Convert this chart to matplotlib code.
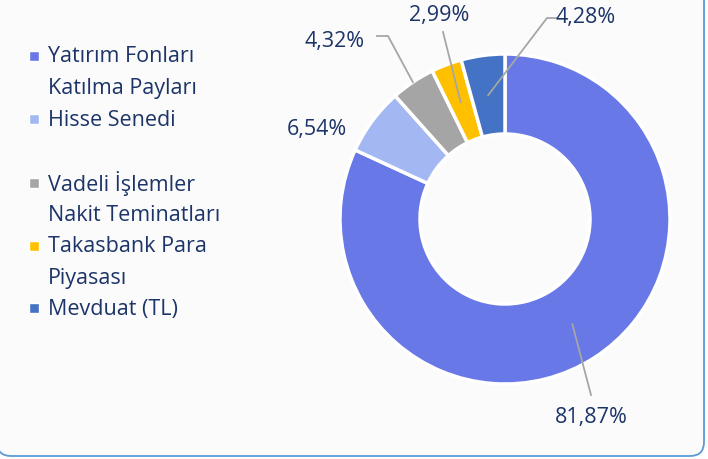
import matplotlib.pyplot as plt
import numpy as np
from matplotlib.patches import FancyBboxPatch, Rectangle

# data
labels = ["Yatırım Fonları\nKatılma Payları", "Hisse Senedi", "Vadeli İşlemler\nNakit Teminatları",
          "Takasbank Para\nPiyasası", "Mevduat (TL)"]
values = [81.87, 6.54, 4.32, 2.99, 4.28]
pct_text = ["81,87%", "6,54%", "4,32%", "2,99%", "4,28%"]
colors = ["#6878E6", "#A3B8F2", "#A5A5A5", "#FFC000", "#4472C4"]

W, H = 708, 460
txt_col = "#1C3468"
fs = 15.5
plt.rcParams['font.family'] = ['Open Sans', 'DejaVu Sans']

fig = plt.figure(figsize=(W / 100, H / 100), dpi=100)
ax = fig.add_axes([0, 0, 1, 1])

# box background
box = FancyBboxPatch((-3, 3), 707, 520, boxstyle="round,pad=0,rounding_size=14",
                     facecolor="#fbfbfb", edgecolor="#5B9BD5", linewidth=1.3, zorder=0)
ax.add_patch(box)

# donut, working in pixel coords (y up)
cx, cy = 505, H - 220
r_out, r_in = 165, 85
wedges, _ = ax.pie(values, colors=colors, startangle=90, counterclock=False,
                   center=(cx, cy), radius=r_out,
                   wedgeprops=dict(width=r_out - r_in, edgecolor="white", linewidth=2.5))

# labels: anchor radius, leader path (pixel coords, y down), text position
anchor_r = [125, None, 165, 125, 125]
leaders = [[(591, 396)], None, [(388, 37), (377, 37)], [(443, 33)], [(547, 19), (556, 19)]]
text_pos = [(591, 418), (317, 130), (335, 41), (439, 16), (586, 18)]

for w, ar, lead, tp, t in zip(wedges, anchor_r, leaders, text_pos, pct_text):
    if lead is not None:
        mid = np.deg2rad((w.theta1 + w.theta2) / 2)
        xs = [cx + ar * np.cos(mid)] + [p[0] for p in lead]
        ys = [cy + ar * np.sin(mid)] + [H - p[1] for p in lead]
        ax.plot(xs, ys, color="#A6A6A6", lw=1.3, zorder=3)
    ax.text(tp[0], H - tp[1], t, ha="center", va="center", fontsize=fs, color=txt_col)

# legend drawn by hand
leg_y = [57, 120, 184, 247, 309]
for lab, col, y in zip(labels, colors, leg_y):
    ax.add_patch(Rectangle((29, H - y - 5), 10, 10, facecolor=col, edgecolor="white", lw=1.0))
    for i, line in enumerate(lab.split("\n")):
        ax.text(48, H - y - 31.5 * i, line, ha="left", va="center", fontsize=fs, color=txt_col)

ax.set_xlim(0, W)
ax.set_ylim(0, H)
ax.set_aspect("equal")
ax.axis("off")

fig.savefig("out.png", dpi=100)
